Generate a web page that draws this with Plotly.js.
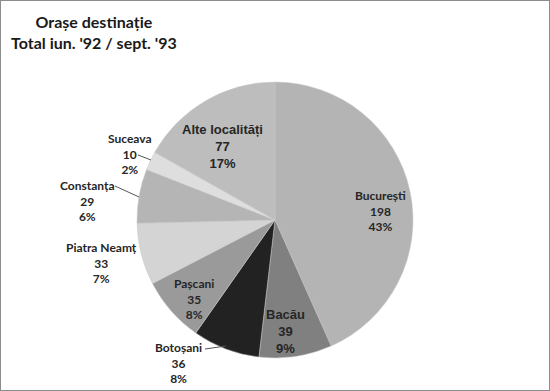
<!DOCTYPE html>
<html>
<head>
<meta charset="utf-8">
<script src="https://cdn.plot.ly/plotly-3.0.1.min.js"></script>
<style>
html,body{margin:0;padding:0;background:#fff;}
#chart{width:550px;height:391px;}
</style>
</head>
<body>
<div id="chart"></div>
<script>
// Data
const categories = ["București", "Bacău", "Botoșani", "Pașcani", "Piatra Neamț", "Constanța", "Suceava", "Alte localități"];
const values = [198, 39, 36, 35, 33, 29, 10, 77];
const sliceColors = ["#b4b4b4", "#808080", "#222222", "#9a9a9a", "#d4d4d4", "#b5b5b5", "#dedede", "#bdbdbd"];
const titleText = "Orașe destinație<br>Total iun. '92 / sept. '93";

const total = values.reduce((a, b) => a + b, 0);
const pct = values.map(v => Math.round(v / total * 100) + "%");

// Label placement (pixel coordinates in the 550x391 frame)
const W = 550, H = 391;
const labelPos = {
  "București":      {x: 380, y: 211, font: "Lato", size: 12},
  "Bacău":          {x: 285, y: 331, font: "Liberation Sans", size: 13},
  "Botoșani":       {x: 178, y: 363, font: "Lato", size: 12},
  "Pașcani":        {x: 194, y: 299, font: "Lato", size: 12},
  "Piatra Neamț":   {x: 101, y: 263, font: "Lato", size: 12},
  "Constanța":      {x: 87,  y: 201, font: "Lato", size: 12},
  "Suceava":        {x: 130, y: 154, font: "Lato", size: 12},
  "Alte localități":{x: 222, y: 147, font: "Liberation Sans", size: 13}
};

const annotations = categories.map((c, i) => {
  const p = labelPos[c];
  return {
    xref: "paper", yref: "paper",
    x: p.x / W, y: 1 - p.y / H,
    xanchor: "center", yanchor: "middle",
    text: "<b>" + c + "<br>" + values[i] + "<br>" + pct[i] + "</b>",
    showarrow: false,
    align: "center",
    font: {family: p.font, size: p.size, color: "#262626"}
  };
});

// Chart title (drawn as a text annotation so it can sit in the top-left corner)
annotations.push({
  xref: "paper", yref: "paper",
  x: 94 / W, y: 1 - 32 / H,
  xanchor: "center", yanchor: "middle",
  text: "<b>" + titleText + "</b>",
  showarrow: false,
  align: "center",
  font: {family: "Lato", size: 16, color: "#1a1a1a"}
});

const px = (x) => x / W, py = (y) => 1 - y / H;
const leaderLines = [
  [[138, 155], [151, 160]],
  [[115, 186], [139, 197]],
  [[205, 349], [226, 346]]
];
const shapes = leaderLines.map(l => ({
  type: "line", xref: "paper", yref: "paper",
  x0: px(l[0][0]), y0: py(l[0][1]), x1: px(l[1][0]), y1: py(l[1][1]),
  line: {color: "#555", width: 1}
}));
shapes.push({
  type: "rect", xref: "paper", yref: "paper",
  x0: 0, y0: 0, x1: 1, y1: 1,
  line: {color: "#8c8c8c", width: 2}
});

const cx = 275, cy = 220, r = 138;
const trace = {
  type: "pie",
  labels: categories,
  values: values,
  sort: false,
  direction: "clockwise",
  rotation: 0,
  textinfo: "none",
  hoverinfo: "label+value+percent",
  marker: {colors: sliceColors, line: {color: "#c8c8c8", width: 0.5}},
  domain: {x: [(cx - r) / W, (cx + r) / W], y: [(H - cy - r) / H, (H - cy + r) / H]}
};

const layout = {
  width: W, height: H,
  margin: {l: 0, r: 0, t: 0, b: 0},
  paper_bgcolor: "#ffffff",
  showlegend: false,
  annotations: annotations,
  shapes: shapes
};

Plotly.newPlot("chart", [trace], layout, {displayModeBar: false, staticPlot: true});
</script>
</body>
</html>
